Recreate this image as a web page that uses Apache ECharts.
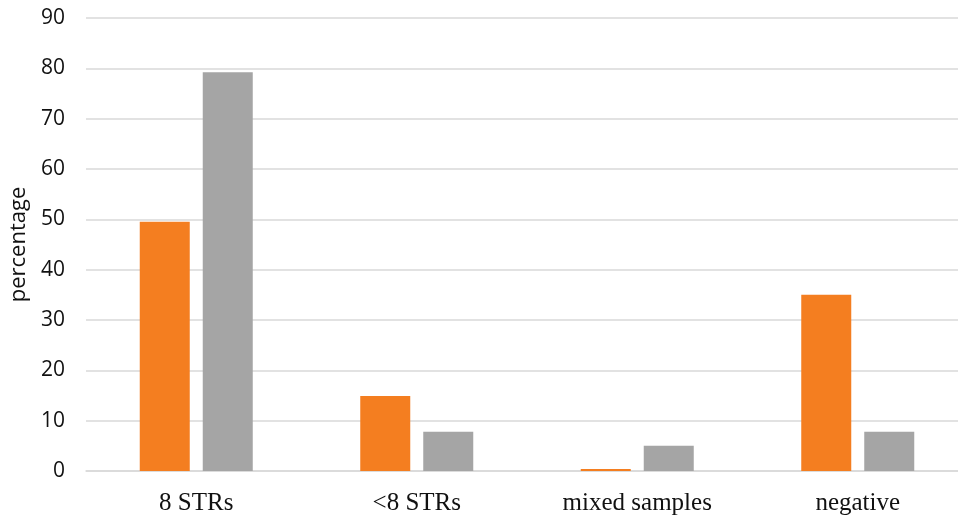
<!DOCTYPE html>
<html><head><meta charset="utf-8">
<script src="https://cdn.jsdelivr.net/npm/echarts@6/dist/echarts.min.js"></script>
<style>html,body{margin:0;padding:0;background:#fff}#c{width:958px;height:517px}</style>
</head><body><div id="c"></div>
<script>
const categories = ['8 STRs', '<8 STRs', 'mixed samples', 'negative'];
const seriesA = [49.5, 14.9, 0.4, 35.0];
const seriesB = [79.2, 7.8, 5.0, 7.8];
const yTicks = [0, 10, 20, 30, 40, 50, 60, 70, 80, 90];

const chart = echarts.init(document.getElementById('c'));
chart.setOption({
  animation: false,
  grid: { left: 86, top: 18, right: -10, bottom: 46, containLabel: false, outerBoundsMode: 'none' },
  xAxis: {
    type: 'category', data: categories,
    axisLine: { show: true, lineStyle: { color: '#d9d9d9', width: 1.5 } },
    axisTick: { show: false },
    axisLabel: { fontFamily: 'Liberation Serif', fontSize: 25, color: '#111', margin: 20 }
  },
  yAxis: {
    type: 'value', min: 0, max: 90, interval: 10,
    name: 'percentage', nameLocation: 'middle', nameGap: 55, nameRotate: 90,
    nameTextStyle: { fontFamily: 'Open Sans', fontSize: 22, color: '#111' },
    axisLine: { show: false }, axisTick: { show: false },
    axisLabel: { fontFamily: 'Open Sans', fontSize: 21, color: '#111', margin: 21,
      formatter: v => yTicks.includes(v) ? String(v) : '' },
    splitLine: { lineStyle: { color: '#d9d9d9', width: 1.5 } }
  },
  series: [
    { type: 'bar', data: seriesA, barWidth: 50, barGap: '26%',
      itemStyle: { color: '#F47E20' } },
    { type: 'bar', data: seriesB, barWidth: 50,
      itemStyle: { color: '#A5A5A5' } }
  ]
});
</script></body></html>
